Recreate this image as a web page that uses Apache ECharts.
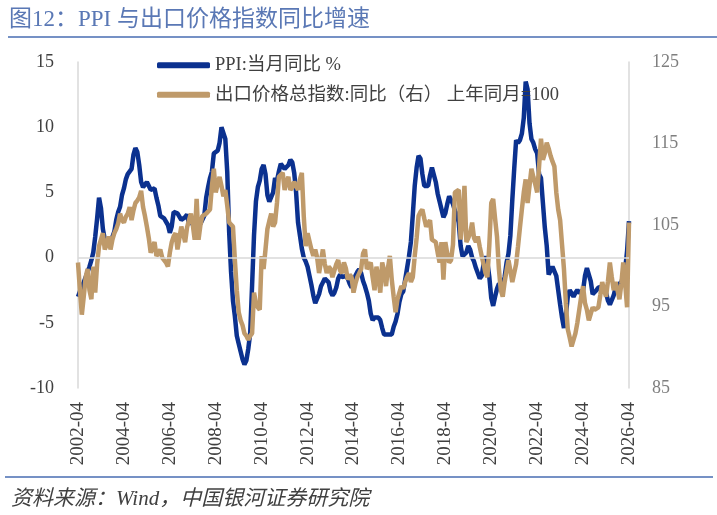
<!DOCTYPE html>
<html>
<head>
<meta charset="UTF-8">
<title>PPI 与出口价格指数同比增速</title>
<script src="https://cdn.jsdelivr.net/npm/echarts/dist/echarts.min.js"></script>
<style>
    html, body { margin: 0; padding: 0; background: #fff; }
    #main { width: 717px; height: 515px; }
</style>
</head>
<body>
<div id="main"></div>
<script>
    // 月份：2002-04 ~ 2026-04
    const months = [];
    for (let y = 2002, m = 4; y < 2026 || (y === 2026 && m <= 4); m++) {
        if (m > 12) { m = 1; y++; if (y === 2026 && m > 4) break; }
        months.push(y + '-' + (m < 10 ? '0' + m : m));
    }

    // PPI:当月同比 %
    const ppi = [
        -3.0, -2.6, -2.2, -1.9, -1.5, -1.1, -0.7, -0.2, 0.4,
        1.6, 3.0, 4.6, 3.8, 2.2, 1.4, 1.2, 1.3, 1.2, 1.2, 2.0, 2.9,
        3.5, 3.9, 4.8, 5.3, 6.0, 6.4, 6.4, 6.8, 7.9, 8.4, 8.1, 7.1,
        5.8, 5.4, 5.6, 5.8, 5.9, 5.2, 5.2, 5.3, 4.6, 4.0, 3.2, 3.2,
        3.0, 3.0, 2.5, 1.9, 2.4, 3.5, 3.6, 3.4, 3.5, 2.9, 2.8, 3.1,
        3.3, 2.6, 2.7, 2.8, 2.8, 2.5, 2.4, 2.6, 2.7, 3.2, 4.6, 5.4,
        6.1, 6.6, 8.0, 8.1, 8.2, 8.8, 10.0, 10.1, 9.1, 6.6, 2.0, -1.1,
        -3.3, -4.5, -6.0, -6.6, -7.2, -7.8, -8.2, -7.9, -7.0, -5.8, -2.1, 1.7,
        4.3, 5.4, 5.9, 6.8, 7.1, 6.4, 4.8, 4.3, 4.3, 5.0, 6.1, 5.9,
        6.6, 7.2, 7.3, 6.8, 6.8, 7.1, 7.5, 7.3, 6.5, 5.0, 2.7, 1.7,
        0.7, 0.0, -0.3, -0.7, -1.4, -2.1, -2.9, -3.5, -3.6, -2.8, -2.2, -1.9,
        -1.6, -1.6, -1.9, -2.6, -2.9, -2.7, -2.3, -1.6, -1.3, -1.5, -1.4, -1.4,
        -1.6, -2.0, -2.3, -2.0, -1.4, -1.1, -0.9, -1.2, -1.8, -2.2, -2.7, -3.3,
        -4.3, -4.8, -4.6, -4.6, -4.6, -4.8, -5.4, -5.9, -5.9, -5.9, -5.9, -5.9,
        -5.3, -4.9, -4.3, -3.4, -2.8, -2.6, -1.7, -0.8, 0.1, 1.2, 3.3, 5.5,
        6.9, 7.8, 7.6, 6.4, 5.5, 5.5, 5.5, 6.3, 6.9, 6.9, 5.8, 4.9,
        4.3, 3.7, 3.1, 3.4, 4.1, 4.7, 4.6, 4.1, 3.6, 3.3, 2.7, 0.9,
        0.1, 0.1, 0.4, 0.9, 0.6, 0.0, -0.3, -0.8, -1.2, -1.6, -1.4, -0.5,
        0.1, -0.4, -1.5, -3.1, -3.7, -3.0, -2.4, -2.0, -2.1, -2.1, -1.5, -0.4,
        0.3, 1.7, 4.4, 6.8, 9.0, 8.8, 9.0, 9.5, 10.7, 13.5, 12.9, 10.3,
        9.1, 8.8, 8.3, 8.0, 6.4, 6.1, 4.2, 2.3, 0.9, -1.3, -1.3, -0.7,
        -0.8, -1.4, -2.5, -3.6, -4.6, -5.4, -4.4, -3.0, -2.5, -2.6, -3.0, -2.7,
        -2.5, -2.7, -2.8, -2.5, -1.4, -0.8, -0.8, -1.8, -2.8, -2.9, -2.5, -2.3,
        -2.3, -2.2, -2.5, -2.7, -3.3, -3.6, -3.6, -2.9, -2.3, -2.1, -2.2, -1.9,
        -1.4, -0.9, 0.5, 2.8
    ];

    // 出口价格总指数:同比（右） 上年同月=100
    const exportPrice = [
        100.4, 97.0, 94.0, 96.2, 98.6, 99.6, 97.0, 95.9, 99.9,
        96.7, 100.2, 102.4, 103.2, 104.0, 102.0, 102.6, 103.6, 102.0, 103.2, 104.0, 104.5,
        105.2, 106.4, 105.6, 105.3, 106.0, 106.4, 107.2, 105.6, 106.8, 107.7, 108.0, 108.4,
        109.2, 107.2, 106.1, 104.8, 103.4, 101.6, 102.3, 102.9, 101.2, 101.5, 102.0, 101.0,
        100.7, 100.4, 99.9, 101.6, 102.9, 103.6, 104.0, 102.0, 103.4, 104.8, 103.9, 102.9,
        104.7, 105.6, 106.4, 105.0, 103.2, 108.2, 103.2, 105.0, 106.1, 106.3, 106.4, 106.6,
        106.9, 109.8, 111.9, 109.0, 110.0, 110.9, 109.8, 108.5, 109.3, 107.4, 105.3, 105.2,
        104.8, 100.7, 97.0, 94.3, 93.3, 92.7, 91.7, 91.4, 90.9, 91.4, 91.7, 96.7,
        95.4, 94.9, 94.6, 101.2, 99.6, 102.0, 104.5, 105.5, 106.4, 104.8, 105.3, 107.7,
        110.9, 111.1, 111.4, 109.3, 110.3, 110.9, 109.3, 109.6, 110.3, 109.8, 109.3, 110.6,
        111.4, 106.1, 102.4, 104.0, 104.0, 102.0, 101.2, 102.0, 101.0, 99.1, 100.5, 102.0,
        100.2, 99.1, 99.9, 99.6, 98.6, 99.4, 100.2, 100.7, 99.4, 99.1, 100.4, 99.7,
        98.3, 98.9, 98.6, 96.7, 97.8, 98.6, 99.1, 99.6, 101.5, 102.0, 99.6, 100.0,
        100.4, 98.6, 97.0, 99.9, 98.6, 96.7, 100.4, 99.4, 97.5, 99.7, 101.2, 98.3,
        96.2, 94.3, 95.9, 96.7, 97.5, 97.2, 98.0, 98.6, 99.1, 98.0, 98.6, 101.2,
        103.4, 106.1, 106.6, 106.9, 105.8, 104.8, 105.2, 105.6, 103.2, 103.1, 102.9, 101.6,
        100.4, 102.9, 98.3, 102.9, 101.5, 100.4, 100.7, 102.6, 109.0, 109.2, 109.3, 103.2,
        105.8, 109.8, 102.9, 103.4, 104.0, 105.3, 103.4, 102.9, 103.6, 102.3, 101.2, 100.2,
        99.1, 98.6, 102.6, 107.7, 108.2, 105.8, 103.6, 99.6, 97.0, 96.2, 98.0, 99.4,
        100.7, 99.4, 98.0, 98.0, 100.2, 102.4, 104.7, 106.9, 109.0, 110.6, 107.7, 107.7,
        111.9, 110.9, 110.0, 109.0, 112.2, 115.6, 113.0, 113.8, 115.1, 114.4, 113.5, 112.8,
        112.2, 109.0, 106.9, 105.6, 102.6, 99.6, 95.4, 92.2, 91.2, 90.1, 90.9, 91.7,
        93.0, 94.6, 96.2, 97.5, 95.4, 94.6, 93.3, 94.1, 94.9, 94.6, 94.8, 94.9,
        96.4, 98.0, 97.0, 96.2, 98.1, 100.4, 98.6, 97.0, 98.0, 97.0, 95.9, 97.8,
        100.4, 97.8, 94.9, 105.3
    ];

    const fontFamily = "'Liberation Serif', 'Noto Sans CJK SC', serif";
    const blue = '#0b318f';
    const tan = '#bf9a6a';
    const ruleColor = '#7591c5';

    const chart = echarts.init(document.getElementById('main'));
    const option = {
        animation: false,
        backgroundColor: '#fff',
        textStyle: { fontFamily: fontFamily },
        title: [
            {
                text: '图12：PPI 与出口价格指数同比增速',
                left: 4, top: 3,
                textStyle: { color: '#5a78b5', fontSize: 23, fontWeight: 'normal', fontFamily: fontFamily }
            },
            {
                text: '资料来源：Wind，中国银河证券研究院',
                left: 6, top: 484,
                textStyle: { color: '#404040', fontSize: 21, fontWeight: 'normal', fontStyle: 'italic', fontFamily: fontFamily }
            }
        ],
        graphic: [
            { type: 'line', shape: { x1: 8, y1: 37, x2: 717, y2: 37 }, style: { stroke: ruleColor, lineWidth: 2 } },
            { type: 'line', shape: { x1: 5, y1: 477, x2: 713, y2: 477 }, style: { stroke: ruleColor, lineWidth: 2 } }
        ],
        legend: {
            orient: 'vertical',
            left: 152, top: 51,
            itemWidth: 53, itemHeight: 6,
            itemGap: 11,
            icon: 'roundRect',
            textStyle: { color: '#404040', fontSize: 18.5, fontFamily: fontFamily },
            data: ['PPI:当月同比 %', '出口价格总指数:同比（右） 上年同月=100']
        },
        grid: { left: 78, right: 88, top: 62, bottom: 127, containLabel: false },
        xAxis: {
            type: 'category',
            data: months,
            boundaryGap: false,
            axisLine: { show: false },
            axisTick: { show: false },
            axisLabel: {
                interval: 23, rotate: 90, margin: 14,
                color: '#404040', fontSize: 19, fontFamily: fontFamily
            }
        },
        yAxis: [
            {
                type: 'value', min: -10, max: 15, interval: 5,
                axisLine: { show: true, lineStyle: { color: '#d9d9d9', width: 1.5 } },
                axisTick: { show: false },
                splitLine: { show: false },
                axisLabel: { color: '#404040', fontSize: 18, margin: 24, fontFamily: fontFamily }
            },
            {
                type: 'value', min: 85, max: 125, interval: 10,
                position: 'right',
                axisLine: { show: true, lineStyle: { color: '#d9d9d9', width: 1.5 } },
                axisTick: { show: false },
                splitLine: { show: false },
                axisLabel: { color: '#7f7f7f', fontSize: 18, margin: 23, fontFamily: fontFamily }
            }
        ],
        series: [
            {
                name: 'PPI:当月同比 %',
                type: 'line',
                yAxisIndex: 0,
                data: ppi,
                showSymbol: false,
                symbol: 'none',
                lineStyle: { color: blue, width: 4.5 },
                itemStyle: { color: blue },
                markLine: {
                    silent: true,
                    symbol: 'none',
                    label: { show: false },
                    lineStyle: { color: '#d9d9d9', width: 1.5, type: 'solid' },
                    data: [{ yAxis: 0 }]
                }
            },
            {
                name: '出口价格总指数:同比（右） 上年同月=100',
                type: 'line',
                yAxisIndex: 1,
                data: exportPrice,
                showSymbol: false,
                symbol: 'none',
                lineStyle: { color: tan, width: 4.5 },
                itemStyle: { color: tan }
            }
        ]
    };
    chart.setOption(option);
</script>
</body>
</html>
